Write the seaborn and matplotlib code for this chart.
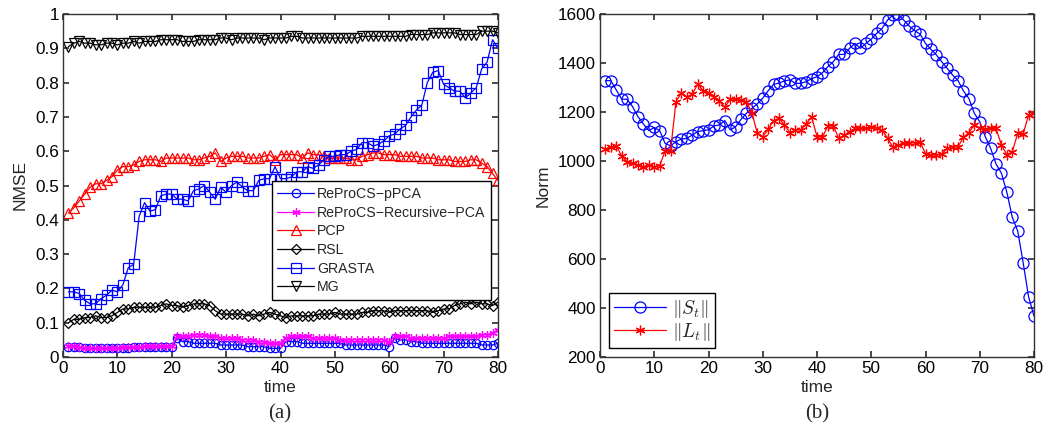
import numpy as np
import pandas as pd
import matplotlib
matplotlib.use("Agg")
import matplotlib.pyplot as plt
from matplotlib.ticker import FuncFormatter
import seaborn as sns

# time axis
t = list(range(1, 81))

# (a) NMSE per method
reprocs_ppca = [0.030, 0.030, 0.028, 0.025, 0.025, 0.025, 0.025, 0.025, 0.025, 0.025,
                0.027, 0.027, 0.028, 0.028, 0.030, 0.030, 0.030, 0.030, 0.030, 0.030,
                0.055, 0.045, 0.045, 0.040, 0.040, 0.040, 0.040, 0.040, 0.035, 0.035,
                0.035, 0.035, 0.035, 0.030, 0.030, 0.030, 0.030, 0.025, 0.025, 0.025,
                0.045, 0.045, 0.045, 0.040, 0.040, 0.040, 0.040, 0.040, 0.040, 0.040,
                0.040, 0.035, 0.035, 0.035, 0.035, 0.035, 0.035, 0.035, 0.035, 0.030,
                0.055, 0.050, 0.050, 0.045, 0.045, 0.040, 0.040, 0.040, 0.040, 0.040,
                0.040, 0.040, 0.040, 0.040, 0.040, 0.040, 0.035, 0.035, 0.035, 0.040]
reprocs_rec = [0.031, 0.031, 0.029, 0.026, 0.026, 0.026, 0.026, 0.026, 0.026, 0.026,
               0.028, 0.028, 0.029, 0.029, 0.031, 0.031, 0.031, 0.031, 0.031, 0.031,
               0.060, 0.060, 0.060, 0.065, 0.065, 0.065, 0.060, 0.060, 0.055, 0.055,
               0.055, 0.055, 0.050, 0.050, 0.050, 0.045, 0.045, 0.040, 0.040, 0.040,
               0.055, 0.060, 0.060, 0.060, 0.060, 0.055, 0.055, 0.055, 0.055, 0.055,
               0.050, 0.050, 0.050, 0.050, 0.050, 0.050, 0.050, 0.050, 0.050, 0.045,
               0.060, 0.060, 0.060, 0.055, 0.055, 0.055, 0.055, 0.055, 0.055, 0.055,
               0.060, 0.060, 0.060, 0.060, 0.060, 0.060, 0.065, 0.065, 0.070, 0.080]
pcp = [0.420, 0.435, 0.455, 0.475, 0.495, 0.505, 0.505, 0.515, 0.525, 0.545,
       0.555, 0.555, 0.560, 0.570, 0.575, 0.575, 0.575, 0.570, 0.580, 0.580,
       0.580, 0.580, 0.580, 0.575, 0.575, 0.580, 0.585, 0.595, 0.570, 0.580,
       0.585, 0.585, 0.585, 0.580, 0.580, 0.580, 0.585, 0.590, 0.575, 0.590,
       0.590, 0.590, 0.590, 0.580, 0.595, 0.590, 0.590, 0.585, 0.580, 0.580,
       0.580, 0.580, 0.575, 0.575, 0.585, 0.590, 0.595, 0.595, 0.590, 0.590,
       0.590, 0.585, 0.585, 0.585, 0.585, 0.580, 0.580, 0.580, 0.575, 0.575,
       0.575, 0.570, 0.570, 0.570, 0.575, 0.575, 0.565, 0.555, 0.535, 0.515]
rsl = [0.100, 0.110, 0.110, 0.115, 0.115, 0.120, 0.115, 0.115, 0.120, 0.130,
       0.140, 0.140, 0.145, 0.145, 0.145, 0.145, 0.145, 0.150, 0.155, 0.150,
       0.150, 0.145, 0.150, 0.155, 0.155, 0.155, 0.150, 0.135, 0.125, 0.125,
       0.125, 0.125, 0.125, 0.120, 0.125, 0.120, 0.125, 0.130, 0.125, 0.120,
       0.115, 0.120, 0.120, 0.120, 0.120, 0.120, 0.125, 0.125, 0.125, 0.130,
       0.125, 0.125, 0.125, 0.125, 0.130, 0.130, 0.135, 0.135, 0.135, 0.130,
       0.135, 0.135, 0.135, 0.135, 0.135, 0.135, 0.135, 0.130, 0.135, 0.140,
       0.140, 0.150, 0.155, 0.160, 0.155, 0.160, 0.155, 0.155, 0.150, 0.160]
grasta = [0.190, 0.190, 0.185, 0.165, 0.155, 0.155, 0.170, 0.180, 0.195, 0.190,
          0.210, 0.260, 0.270, 0.410, 0.450, 0.425, 0.430, 0.470, 0.475, 0.475,
          0.460, 0.460, 0.455, 0.485, 0.490, 0.500, 0.480, 0.460, 0.495, 0.480,
          0.500, 0.510, 0.495, 0.485, 0.485, 0.515, 0.520, 0.520, 0.555, 0.520,
          0.520, 0.525, 0.540, 0.540, 0.555, 0.550, 0.560, 0.575, 0.585, 0.585,
          0.590, 0.590, 0.600, 0.605, 0.625, 0.625, 0.615, 0.620, 0.630, 0.645,
          0.650, 0.665, 0.675, 0.700, 0.720, 0.735, 0.800, 0.830, 0.835, 0.795,
          0.785, 0.775, 0.775, 0.755, 0.770, 0.785, 0.840, 0.860, 0.925, 0.900]
mg = [0.905, 0.915, 0.920, 0.915, 0.915, 0.910, 0.910, 0.915, 0.915, 0.910,
      0.915, 0.915, 0.920, 0.915, 0.920, 0.920, 0.920, 0.925, 0.925, 0.925,
      0.925, 0.920, 0.920, 0.920, 0.925, 0.925, 0.925, 0.925, 0.930, 0.930,
      0.925, 0.930, 0.930, 0.930, 0.930, 0.930, 0.925, 0.930, 0.930, 0.930,
      0.930, 0.935, 0.935, 0.930, 0.930, 0.930, 0.930, 0.930, 0.930, 0.930,
      0.930, 0.930, 0.930, 0.930, 0.935, 0.935, 0.935, 0.935, 0.935, 0.935,
      0.935, 0.935, 0.935, 0.940, 0.940, 0.940, 0.940, 0.945, 0.945, 0.945,
      0.945, 0.945, 0.940, 0.940, 0.940, 0.940, 0.950, 0.950, 0.950, 0.945]

# (b) norms
s_norm = [1328, 1328, 1290, 1252, 1252, 1222, 1181, 1151, 1124, 1137,
          1124, 1072, 1062, 1079, 1090, 1092, 1106, 1120, 1124, 1127,
          1143, 1147, 1165, 1127, 1140, 1170, 1195, 1215, 1233, 1256,
          1287, 1313, 1318, 1327, 1331, 1317, 1317, 1324, 1336, 1344,
          1360, 1385, 1405, 1435, 1435, 1460, 1480, 1460, 1480, 1497,
          1521, 1541, 1575, 1596, 1598, 1575, 1551, 1532, 1518, 1480,
          1456, 1433, 1405, 1378, 1351, 1328, 1286, 1255, 1195, 1160,
          1100, 1052, 988, 950, 872, 770, 714, 585, 446, 367]
l_norm = [1048, 1058, 1062, 1020, 997, 990, 984, 977, 984, 977,
          981, 1041, 1041, 1242, 1279, 1262, 1272, 1314, 1287, 1279,
          1262, 1246, 1219, 1252, 1252, 1250, 1242, 1197, 1113, 1100,
          1129, 1165, 1174, 1147, 1116, 1127, 1127, 1151, 1180, 1100,
          1097, 1143, 1143, 1093, 1105, 1120, 1133, 1133, 1133, 1140,
          1133, 1127, 1093, 1056, 1065, 1072, 1072, 1075, 1079, 1029,
          1025, 1025, 1029, 1052, 1058, 1058, 1097, 1116, 1147, 1133,
          1129, 1133, 1133, 1065, 1025, 1038, 1113, 1110, 1188, 1195]

sns.set_theme(style="ticks", rc={
    "xtick.direction": "in", "ytick.direction": "in",
    "xtick.top": True, "ytick.right": True,
    "axes.edgecolor": "#333333", "axes.linewidth": 1.0,
    "xtick.color": "#333333", "ytick.color": "#333333",
    "xtick.labelcolor": "black", "ytick.labelcolor": "black",
    "xtick.major.size": 4, "ytick.major.size": 4,
})
plt.rcParams["font.family"] = ["Liberation Sans", "DejaVu Sans"]
plt.rcParams["mathtext.fontset"] = "cm"

fig = plt.figure(figsize=(10.43, 4.29), dpi=100)
ax1 = fig.add_axes([63/1043, 1-357/429, 435/1043, 343/429])
ax2 = fig.add_axes([600/1043, 1-357/429, 434/1043, 343/429])

star = (6, 2, 0)
series = [
    ("ReProCS\u2212pPCA", reprocs_ppca, "blue", "o", 6),
    ("ReProCS\u2212Recursive\u2212PCA", reprocs_rec, "magenta", star, 6),
    ("PCP", pcp, "red", "^", 7),
    ("RSL", rsl, "black", "D", 5.5),
    ("GRASTA", grasta, "blue", "s", 6.5),
    ("MG", mg, "black", "v", 7),
]
for name, vals, col, mk, ms in series:
    sns.lineplot(x=t, y=vals, ax=ax1, color=col, marker=mk, markersize=ms,
                 markerfacecolor="none", markeredgecolor=col, markeredgewidth=0.9,
                 linewidth=0.9, label=name)

fmt = FuncFormatter(lambda v, p: "%g" % round(v, 2))
ax1.set_xlim(0, 80)
ax1.set_ylim(0, 1)
ax1.set_xticks(np.arange(0, 81, 10))
ax1.set_yticks(np.arange(0, 1.01, 0.1))
ax1.yaxis.set_major_formatter(fmt)
ax1.set_xlabel("time", fontsize=12.5, labelpad=3)
ax1.set_ylabel("NMSE", fontsize=12.5, labelpad=5)
ax1.tick_params(labelsize=12.3, pad=3)
leg1 = ax1.legend(loc="upper right", bbox_to_anchor=(0.984, 0.512), borderaxespad=0,
                  fontsize=10.2, handlelength=2.6, handletextpad=0.2, borderpad=0.4,
                  labelspacing=0.33, fancybox=False, edgecolor="black", framealpha=1)
leg1.get_frame().set_linewidth(1.0)

sns.lineplot(x=t, y=s_norm, ax=ax2, color="blue", marker="o", markersize=8,
             markerfacecolor="none", markeredgecolor="blue", markeredgewidth=0.9,
             linewidth=0.9, label=r"$\|S_t\|$")
sns.lineplot(x=t, y=l_norm, ax=ax2, color="red", marker=star, markersize=7,
             markerfacecolor="none", markeredgecolor="red", markeredgewidth=0.9,
             linewidth=0.9, label=r"$\|L_t\|$")
ax2.set_xlim(0, 80)
ax2.set_ylim(200, 1600)
ax2.set_xticks(np.arange(0, 81, 10))
ax2.set_yticks(np.arange(200, 1601, 200))
ax2.set_xlabel("time", fontsize=12.5, labelpad=3)
ax2.set_ylabel("Norm", fontsize=12.5, labelpad=5)
ax2.tick_params(labelsize=12.3, pad=3)
leg2 = ax2.legend(loc="lower left", bbox_to_anchor=(0.021, 0.026), borderaxespad=0,
                  fontsize=14, handlelength=2.7, handletextpad=0.3, borderpad=0.25,
                  labelspacing=0.05, fancybox=False, edgecolor="black", framealpha=1)
leg2.get_frame().set_linewidth(1.0)

fig.text(280/1043, 1-414/429, "(a)", ha="center", va="center",
         family="Liberation Serif", fontsize=15)
fig.text(817/1043, 1-414/429, "(b)", ha="center", va="center",
         family="Liberation Serif", fontsize=15)

fig.savefig("out.png", dpi=100)
